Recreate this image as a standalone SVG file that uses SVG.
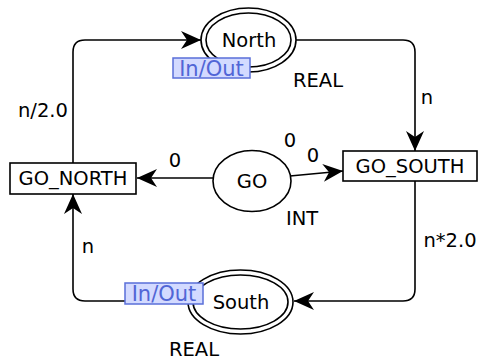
<svg xmlns="http://www.w3.org/2000/svg" width="478" height="363" viewBox="0 0 478 363">
  <style>
    text { font-family: "DejaVu Sans", "Liberation Sans", sans-serif; font-size: 19.5px; fill: #000; }
    .mid { text-anchor: middle; }
    .arc { fill: none; stroke: #000; stroke-width: 1.6; }
    .node { fill: #fff; stroke: #000; stroke-width: 1.6; }
    .port rect { fill: #d3daff; stroke: #5a6fd9; stroke-width: 1.5; }
    .port text { fill: #5166d6; font-size: 21px; }
  </style>
  <defs>
    <marker id="arrow" markerWidth="22" markerHeight="20" refX="20" refY="9" orient="auto" markerUnits="userSpaceOnUse">
      <path d="M0,0 L20,9 L0,18 L6,9 Z" fill="#000"/>
    </marker>
  </defs>

  <!-- connectors -->
  <g id="connectors">
    <path class="arc" d="M73,163 L73,52 Q73,40 85,40 L201,40" marker-end="url(#arrow)"/>
    <path class="arc" d="M296,40 L403,40 Q415,40 415,52 L415,151" marker-end="url(#arrow)"/>
    <path class="arc" d="M415,181 L415,289 Q415,301 403,301 L294,301" marker-end="url(#arrow)"/>
    <path class="arc" d="M190,301 L85,301 Q73,301 73,289 L73,194" marker-end="url(#arrow)"/>
    <path class="arc" d="M213,178 L137,178" marker-end="url(#arrow)"/>
    <path class="arc" d="M290,176 L343,171" marker-end="url(#arrow)"/>
  </g>

  <!-- arc inscriptions -->
  <g id="labels">
    <text x="43" y="117" class="mid">n/2.0</text>
    <text x="427" y="104" class="mid">n</text>
    <text x="450" y="247" class="mid">n*2.0</text>
    <text x="88" y="253" class="mid">n</text>
    <text x="175" y="167" class="mid">0</text>
    <text x="290" y="147" class="mid">0</text>
    <text x="313" y="162" class="mid">0</text>
  </g>

  <g id="North">
    <ellipse class="node" cx="248.5" cy="40" rx="47.5" ry="32"/>
    <ellipse class="node" cx="248.5" cy="40" rx="42.5" ry="27"/>
    <text x="249" y="47" class="mid">North</text>
    <text x="293" y="87">REAL</text>
    <g class="port">
      <rect x="173" y="58" width="77" height="20"/>
      <text x="211.5" y="75.5" class="mid">In/Out</text>
    </g>
  </g>

  <g id="South">
    <ellipse class="node" cx="240.5" cy="302" rx="52.5" ry="32"/>
    <ellipse class="node" cx="240.5" cy="302" rx="47.5" ry="27"/>
    <text x="241" y="309" class="mid">South</text>
    <text x="194" y="356" class="mid">REAL</text>
    <g class="port">
      <rect x="125" y="283" width="78" height="21"/>
      <text x="164" y="300.5" class="mid">In/Out</text>
    </g>
  </g>

  <g id="GO">
    <ellipse class="node" cx="252" cy="181" rx="39" ry="30.5"/>
    <text x="252" y="188" class="mid">GO</text>
    <text x="302" y="225" class="mid">INT</text>
  </g>

  <g id="GO_NORTH">
    <rect class="node" x="10" y="163" width="126" height="31"/>
    <text x="73" y="185" class="mid">GO_NORTH</text>
  </g>

  <g id="GO_SOUTH">
    <rect class="node" x="343" y="151" width="134" height="30"/>
    <text x="410" y="173" class="mid">GO_SOUTH</text>
  </g>
</svg>
